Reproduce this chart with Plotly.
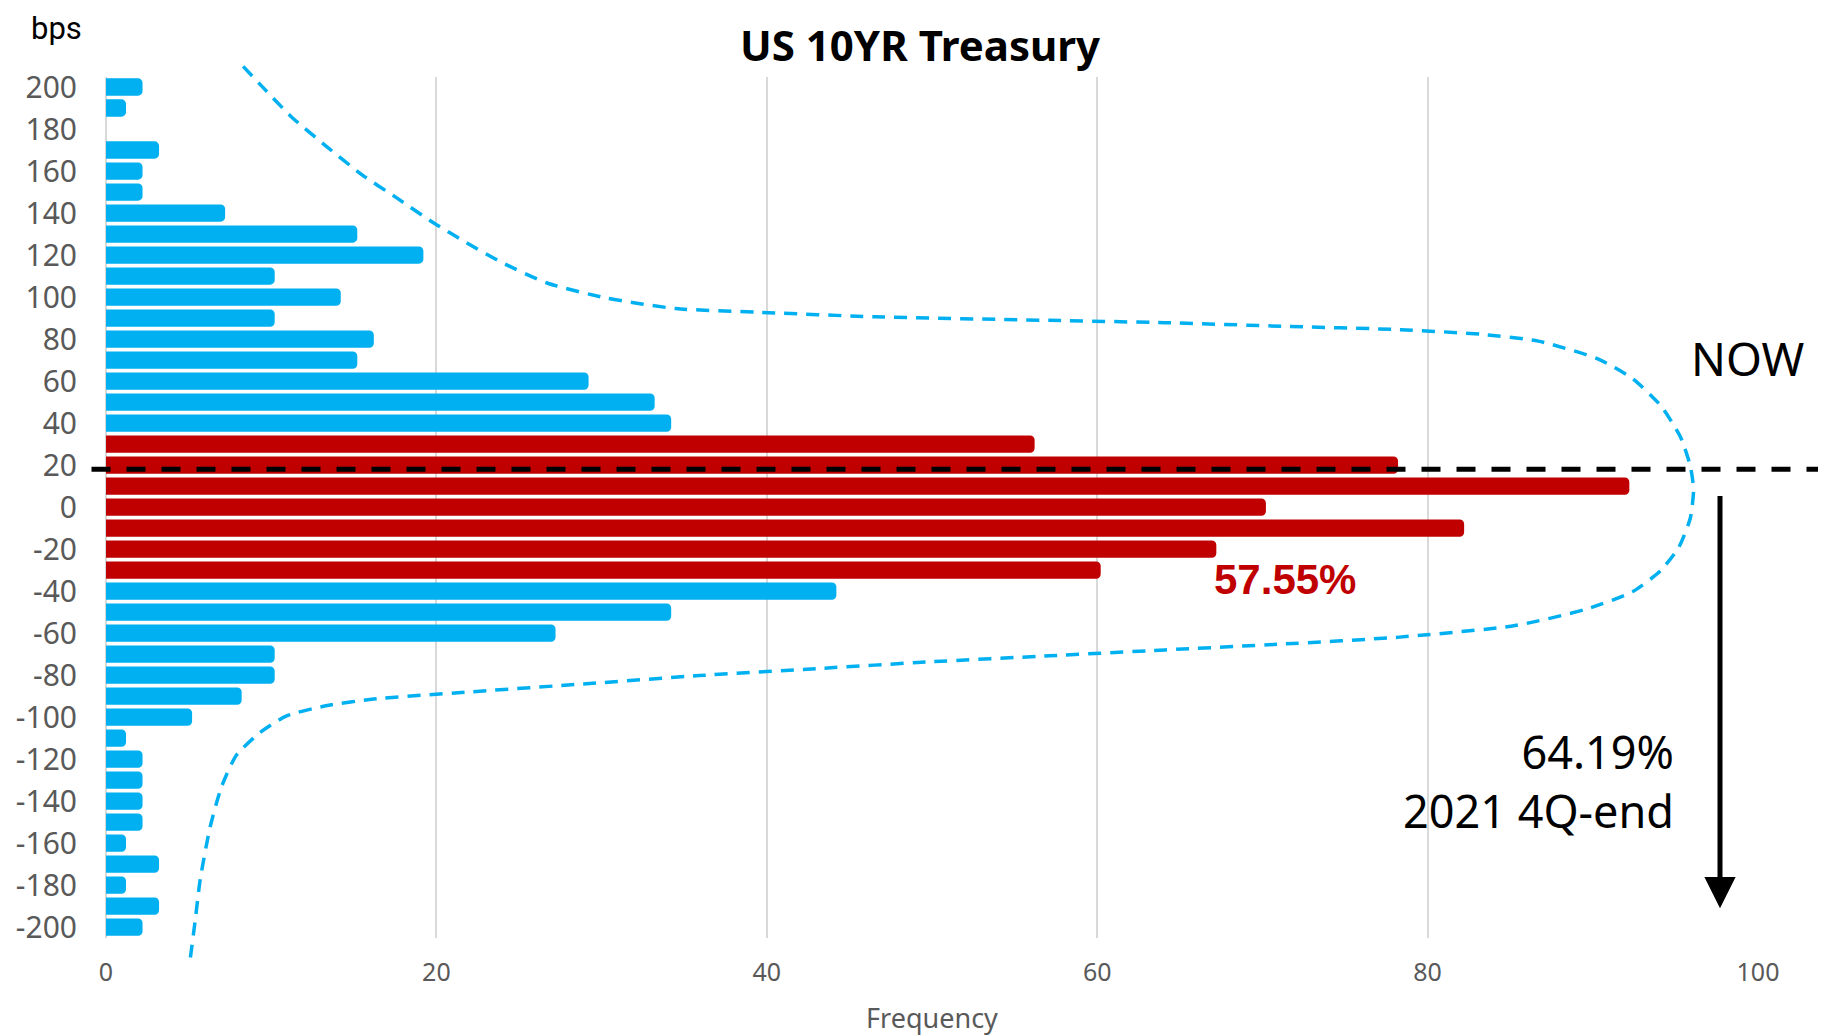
import plotly.graph_objects as go

# ---------------- data ----------------
BPS = list(range(200, -201, -10))
FREQ = [2, 1, 0, 3, 2, 2, 7, 15, 19, 10, 14, 10, 16, 15, 29, 33, 34,
        56, 78, 92, 70, 82, 67, 60,
        44, 34, 27, 10, 10, 8, 5, 1, 2, 2, 2, 2, 1, 3, 1, 3, 2]
HIGHLIGHT_RANGE = (-30, 30)          # red band
NOW_LEVEL = 18                       # bps, dashed "NOW" line
X_TICKS = [0, 20, 40, 60, 80, 100]
Y_TICKS = list(range(-200, 201, 20))
Y_TICK_LABELS = [str(v) for v in Y_TICKS]

# dashed envelope curve (frequency, bps)
CURVE_X = [8.3, 9.5, 11.2, 13.3, 15.5, 17.6, 19.7, 21.8, 23.9, 26.7, 30.3, 34.5,
           39.4, 46.5, 57.1, 64.1, 71.2, 78.3, 83.2, 86.7, 90.3, 92.4, 94.1,
           95.3, 95.9, 96.1, 95.9, 95.2, 94.1, 92.4, 89.6, 85.3, 78.3, 71.2,
           64.1, 57.1, 50.0, 43.0, 35.9, 28.9, 21.8, 16.2, 13.3, 10.9, 9.3,
           7.9, 7.0, 6.3, 5.7, 5.4, 5.1]
CURVE_Y = [209.8, 199.8, 186.0, 172.0, 158.2, 147.2, 136.0, 126.0, 116.7, 106.7,
           99.5, 94.5, 92.8, 90.6, 88.9, 87.8, 86.1, 84.5, 82.3, 79.0, 70.6,
           61.2, 48.4, 33.5, 19.6, 8.5, -5.3, -19.2, -30.3, -40.3, -48.6,
           -56.4, -61.9, -65.2, -68.0, -70.8, -73.6, -76.9, -80.2, -84.2,
           -88.1, -91.4, -94.6, -99.5, -107.5, -118.0, -133.0, -152.4,
           -177.4, -196.8, -215.0]

TITLE = "US 10YR Treasury"
Y_UNIT = "bps"
X_TITLE = "Frequency"
SHARE_TEXT = "57.55%"
NOW_TEXT = "NOW"
SINCE_TEXT = "64.19%<br>2021 4Q-end"
ARROW_X = 97.7
ARROW_FROM, ARROW_TO = 6, -191

BLUE = "#00B0F0"
RED = "#C00000"
GRID = "#D9D9D9"
TICK = "#595959"
FONT = "Noto Sans"

# ---------------- geometry (page pixels; page body has an 8px margin) ----------------
OFF = 8
PAGE_W, PAGE_H = 1826, 1036
W, H = PAGE_W - OFF, PAGE_H - OFF
PX_L, PX_R, PX_T, PX_B = 106, 1758, 62, 962
L, R, T, B = PX_L - OFF, (PAGE_W - PX_R), PX_T - OFF, (PAGE_H - PX_B)
PW, PH = PX_R - PX_L, PX_B - PX_T
Y_TOP_PX, Y_BOT_PX = 76.5, 937.7
Y_MIN, Y_MAX = -205, 205
ydom = [(PX_B - Y_BOT_PX) / PH, (PX_B - Y_TOP_PX) / PH]
upp = (Y_MAX - Y_MIN) / (Y_BOT_PX - Y_TOP_PX)
y2_range = [Y_MIN - (PX_B - Y_BOT_PX) * upp, Y_MAX + (Y_TOP_PX - PX_T) * upp]
BAR_OUTLINE = 7


def px(xp):
    return (xp - PX_L) / PW


def py(yp):
    return (PX_B - yp) / PH


colors = [RED if HIGHLIGHT_RANGE[0] <= b <= HIGHLIGHT_RANGE[1] else BLUE for b in BPS]
outline_w = [BAR_OUTLINE if f > 0 else 0 for f in FREQ]

fig = go.Figure()
fig.add_trace(go.Bar(
    x=FREQ, y=BPS, orientation="h",
    marker=dict(color=colors, cornerradius=1, line=dict(width=outline_w, color=colors)),
    xaxis="x", yaxis="y", showlegend=False,
))
fig.add_trace(go.Scatter(
    x=CURVE_X, y=CURVE_Y, mode="lines",
    line=dict(color=BLUE, width=3.5, dash="13px,9px", shape="spline", smoothing=0.6),
    xaxis="x2", yaxis="y2", showlegend=False,
))

fig.update_layout(
    width=W, height=H,
    margin=dict(l=L, r=R, t=T, b=B, autoexpand=False),
    paper_bgcolor="white", plot_bgcolor="rgba(0,0,0,0)",
    bargap=0.51,
    font=dict(family=FONT, color=TICK),
    xaxis=dict(
        range=[0, 100], tickvals=X_TICKS, showgrid=True, gridcolor=GRID, gridwidth=2,
        zeroline=True, zerolinecolor=GRID, zerolinewidth=2, showline=False,
        tickfont=dict(size=25, color=TICK), ticks="", ticklabelstandoff=17,
        anchor="y", layer="below traces",
        title=dict(text=X_TITLE, font=dict(size=27, color=TICK), standoff=24),
        fixedrange=True,
    ),
    yaxis=dict(
        range=[Y_MIN, Y_MAX], domain=ydom, tickvals=Y_TICKS, ticktext=Y_TICK_LABELS,
        showgrid=False, zeroline=False, showline=False, ticks="", ticklabelstandoff=28,
        tickfont=dict(size=30, color=TICK), anchor="x",
    ),
    xaxis2=dict(
        range=[0, 100], domain=[0, 1], visible=False, anchor="y2",
        showgrid=False, zeroline=False,
    ),
    yaxis2=dict(
        range=y2_range, domain=[0, 1], visible=False, anchor="x2",
        showgrid=False, zeroline=False,
    ),
)

# NOW dashed line
fig.add_shape(type="line", xref="paper", yref="y",
              x0=px(91.5), x1=px(PAGE_W), y0=NOW_LEVEL, y1=NOW_LEVEL,
              line=dict(color="black", width=5, dash="19px,16px"), layer="above")

annots = [
    dict(text=f"<b>{TITLE}</b>", x=px(920), y=py(45), font=dict(size=42, color="black")),
    dict(text=NOW_TEXT, x=px(1747), y=py(358), font=dict(size=46, color="black")),
    dict(text=f"<b>{SHARE_TEXT}</b>", x=px(1285), y=py(579),
         font=dict(size=42, color=RED, family="Liberation Sans")),
    dict(text=SINCE_TEXT, x=px(1676), y=py(781), xanchor="right", align="right",
         font=dict(size=45, color="black")),
]
for a in annots:
    a.setdefault("xanchor", "center")
    fig.add_annotation(xref="paper", yref="paper", showarrow=False, yanchor="middle", **a)

fig.add_annotation(
    text=Y_UNIT, x=px(56), y=py(OFF + 0.5), xref="paper", yref="paper",
    xanchor="center", yanchor="top", showarrow=False, borderpad=0,
    font=dict(size=31, color="black", family="Roboto"),
)

fig.add_annotation(
    x=ARROW_X, y=ARROW_TO, ax=ARROW_X, ay=ARROW_FROM, xref="x", yref="y",
    axref="x", ayref="y", text="", showarrow=True, arrowhead=2, arrowsize=1.25,
    arrowwidth=5, arrowcolor="black", standoff=0,
)

fig.write_html("out.html")
